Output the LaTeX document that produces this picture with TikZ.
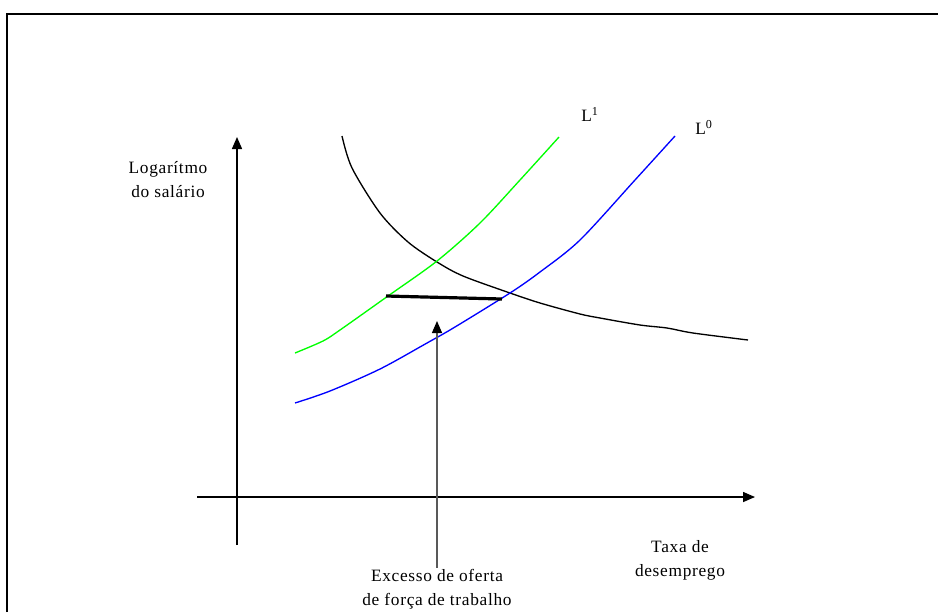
\documentclass[tikz,border=0pt]{standalone}
\usepackage{fontspec}
\setmainfont{Liberation Serif}[LetterSpace=4]
\usetikzlibrary{arrows.meta}
\begin{document}
\begin{tikzpicture}[x=0.75pt,y=-0.75pt,
  lbl/.style={align=center,inner sep=0pt,font=\fontsize{13}{18}\selectfont},
  axis/.style={line width=1.1pt,-{Triangle[length=9pt,width=7.5pt]}},
  curve/.style={line width=1pt,line join=round}]
\useasboundingbox (0,0) rectangle (938,612);
% frame
\draw[line width=0.9pt] (7,612) -- (7,14) -- (938,14);
% axes
\coordinate (ybot) at (237,545);
\coordinate (ytop) at (237,137);
\coordinate (xleft) at (197,497);
\coordinate (xright) at (755,497);
\draw[axis] (ybot) -- (ytop);
\draw[axis] (xleft) -- (xright);
% curves
\draw[curve,black] plot[smooth,tension=0.5] coordinates {(342,136) (352,168) (380,213) (408,242) (437,262) (463,276) (510,293) (540,303) (580,314) (600,318) (640,325) (667,328) (693,333) (748,340)};
\draw[curve,green] plot[smooth,tension=0.5] coordinates {(295,353) (323,341) (340,330) (388,296) (437,261) (480,223) (520,180) (559,137)};
\draw[curve,blue] plot[smooth,tension=0.5] coordinates {(295,403) (330,391) (380,369) (427,343) (455,327) (510,293) (540,272) (580,240) (635,180) (675,136)};
% thick segment
\coordinate (sa) at (386,296);
\coordinate (sb) at (502,299);
\draw[line width=2.4pt] (sa) -- (sb);
% labels
\node[lbl] (ylab) at (168,180) {Logarítmo\\do salário};
\node[lbl] (xlab) at (680,560) {Taxa de\\desemprego};
\node[lbl] (exc) at (437,589) {Excesso de oferta\\de força de trabalho};
\node[lbl,anchor=base west] (l1) at (581,121) {L\textsuperscript{1}};
\node[lbl,anchor=base west] (l0) at (695,134) {L\textsuperscript{0}};
% arrow
\coordinate (atip) at (437,321);
\draw[line width=1pt,black!65,-{Triangle[length=9pt,width=7.5pt,fill=black,color=black]}] (exc.north) ++(0,-1) -- (atip);
\end{tikzpicture}
\end{document}
